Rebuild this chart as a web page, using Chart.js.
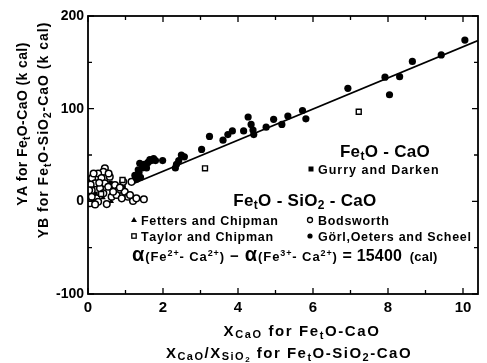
<!DOCTYPE html>
<html><head><meta charset="utf-8">
<script src="https://cdn.jsdelivr.net/npm/chart.js@4.4.0/dist/chart.umd.min.js"></script>
<style>html,body{margin:0;padding:0;background:#fff;}</style>
</head><body>
<canvas id="c" width="487" height="363"></canvas>
<script>
// ---- data ----
const gorlX = [1.25,1.30,1.36,1.40,1.38,1.34,1.45,1.50,1.56,1.60,1.65,1.69,1.75,1.80,1.99,2.33,2.36,2.42,2.49,2.57,3.03,3.24,3.60,3.73,3.85,4.15,4.27,4.35,4.40,4.42,4.75,4.95,5.17,5.33,5.72,5.81,6.93,7.92,8.04,8.31,8.65,9.42,10.05];
const gorlY = [28,24,31,26,41,34,36,40,36,42,45,44,46,44,44,36,40,44,50,48,56,70,66,72,76,76,91,83,77,72,80,88.5,83,92,98,89,122,134,115,134.5,151,158,174];

const bodsX = [0.45,0.41,0.27,0.11,0.36,0.58,0.19,0.45,0.07,0.10,0.32,0.54,0.72,0.94,1.16,0.81,0.98,1.07,1.20,1.49,1.29,0.23,0.10,0.50,0.27,0.63,0.76,0.90,0.03,0.05,0.41,0.67,0.19,1.12,0.15,0.55,0.85,0.30];
const bodsY = [35.6,32,30,25,25,26.5,19.4,19.4,18,12,14,15.8,17.6,21,21,12,10.4,5,0.3,2.2,3.2,3.2,5,-3,-0.4,5,6.8,3.2,12,-2,8.6,10.4,-3.3,6.8,30,30,15,20];

const taylorX = [7.22,3.12,0.92,0.35];
const taylorY = [96.7,35.6,23,8];

const gurryX = [0.05,0.12,0.20,0.35,0.60,0.70,0.95,0.02];
const gurryY = [10,17,8,12,20,12,15,22];

const fettersX = [0.08,0.40,0.62,0.15];
const fettersY = [28,4,0,1];

const lineX = [1.2,10.4];
const lineY = [19,173.5];

const xTicks = [0,1,2,3,4,5,6,7,8,9,10];
const xTickLabels = ['0','','2','','4','','6','','8','','10'];
const yTicks = [-100,-50,0,50,100,150,200];
const yTickLabels = ['-100','','0','','100','','200'];

const FONT = '"Liberation Sans", Arial, Helvetica, sans-serif';
const pts = (xs, ys) => xs.map((x, i) => ({x: x, y: ys[i]}));

// segments: [text, fontSize, dy, letterSpacing]
function rich(ctx, x, y, segs, align, ls0) {
  const ls = ls0 || 0;
  let w = 0;
  segs.forEach(s => {
    ctx.font = 'bold ' + s[1] + 'px ' + FONT;
    const sp = s[3] !== undefined ? s[3] : ls;
    s.cw = Array.from(s[0]).map(ch => ctx.measureText(ch).width + sp);
    s.w = s.cw.reduce((p, q) => p + q, 0);
    w += s.w;
  });
  let sx = align === 'center' ? x - w / 2 : x;
  ctx.textBaseline = 'alphabetic';
  ctx.textAlign = 'left';
  segs.forEach(s => {
    ctx.font = 'bold ' + s[1] + 'px ' + FONT;
    Array.from(s[0]).forEach((ch, k) => { ctx.fillText(ch, sx, y + s[2]); sx += s.cw[k]; });
  });
}

function marker(ctx, type, x, y) {
  ctx.save();
  ctx.lineWidth = 1.3; ctx.strokeStyle = '#000'; ctx.fillStyle = '#000';
  ctx.beginPath();
  if (type === 'tri') { ctx.moveTo(x, y - 3); ctx.lineTo(x + 3, y + 2); ctx.lineTo(x - 3, y + 2); ctx.closePath(); ctx.fill(); }
  else if (type === 'osq') { ctx.strokeRect(x - 2.2, y - 2.2, 4.4, 4.4); }
  else if (type === 'fsq') { ctx.fillRect(x - 2.5, y - 2.5, 5, 5); }
  else if (type === 'oc') { ctx.arc(x, y, 2.5, 0, Math.PI * 2); ctx.stroke(); }
  else if (type === 'fc') { ctx.arc(x, y, 2.6, 0, Math.PI * 2); ctx.fill(); }
  ctx.restore();
}

const decor = {
  id: 'decor',
  afterDraw(chart) {
    const ctx = chart.ctx, a = chart.chartArea;
    const sx = chart.scales.x, sy = chart.scales.y;
    ctx.save();
    ctx.strokeStyle = '#000'; ctx.lineWidth = 1.8;
    ctx.strokeRect(a.left, a.top, a.right - a.left, a.bottom - a.top);
    ctx.lineWidth = 1.3;
    ctx.beginPath();
    xTicks.forEach((v, i) => {
      const px = sx.getPixelForValue(v), L = xTickLabels[i] ? 6 : 4;
      ctx.moveTo(px, a.bottom); ctx.lineTo(px, a.bottom - L);
      ctx.moveTo(px, a.top); ctx.lineTo(px, a.top + L);
    });
    yTicks.forEach((v, i) => {
      const py = sy.getPixelForValue(v), L = yTickLabels[i] ? 6 : 4;
      ctx.moveTo(a.left, py); ctx.lineTo(a.left + L, py);
      ctx.moveTo(a.right, py); ctx.lineTo(a.right - L, py);
    });
    ctx.stroke();
    ctx.fillStyle = '#000';
    // y axis titles (rotated)
    const yt1 = [['YA for Fe',14,0],['t',10,3],['O-CaO (k cal)',14,0]];
    const yt2 = [['YB for Fe',14,0],['t',10,3],['O-SiO',14,0],['2',10,3],['-CaO (k cal)',14,0]];
    ctx.save(); ctx.translate(27, 124); ctx.rotate(-Math.PI / 2); rich(ctx, 0, 0, yt1, 'center', 0.4); ctx.restore();
    ctx.save(); ctx.translate(48, 130); ctx.rotate(-Math.PI / 2); rich(ctx, 0, 0, yt2, 'center', 1.0); ctx.restore();
    // x axis titles
    rich(ctx, 302, 336, [['X',15,0],['CaO',11,2],[' for Fe',15,0],['t',11,3],['O-CaO',15,0]], 'center', 1.6);
    rich(ctx, 289, 358, [['X',15,0],['CaO',11,2],['/X',15,0],['SiO',11,2],['2',8,4],[' for Fe',15,0],['t',11,3],['O-SiO',15,0],['2',11,3],['-CaO',15,0]], 'center', 1.5);
    // legend
    rich(ctx, 385, 157, [['Fe',17,0],['t',12,3],['O - CaO',17,0]], 'center', 0.3);
    marker(ctx, 'fsq', 311, 169);
    rich(ctx, 318, 173.5, [['Gurry and Darken',12.5,0]], 'left', 1.0);
    rich(ctx, 305, 206, [['Fe',17,0],['t',12,3],['O - SiO',17,0],['2',12,3],[' - CaO',17,0]], 'center', 0.3);
    marker(ctx, 'tri', 134, 220);
    rich(ctx, 141, 224.5, [['Fetters and Chipman',12.5,0]], 'left', 0.7);
    marker(ctx, 'oc', 310, 220);
    rich(ctx, 318, 224.5, [['Bodsworth',12.5,0]], 'left', 0.7);
    marker(ctx, 'osq', 134, 236);
    rich(ctx, 141, 240.5, [['Taylor and Chipman',12.5,0]], 'left', 0.7);
    marker(ctx, 'fc', 310, 236);
    rich(ctx, 318, 240.5, [['Görl,Oeters and Scheel',12.5,0]], 'left', 0.7);
    rich(ctx, 132, 261, [['α',20,0,1],['(Fe',13,0],['2+',9,-5],['- Ca',13,0],['2+',9,-5],[')',13,0],[' − ',15,0],['α',20,0,1],['(Fe',13,0],['3+',9,-5],['- Ca',13,0],['2+',9,-5],[')',13,0],[' = 15400',16,0,0.2],['  (cal)',13,0,0.2]], 'left', 0.9);
    ctx.restore();
  }
};

new Chart(document.getElementById('c'), {
  type: 'scatter',
  data: {
    datasets: [
      { label: 'Görl, Oeters and Scheel', data: pts(gorlX, gorlY), pointStyle: 'circle', pointRadius: 3.6, backgroundColor: '#000', borderColor: '#000', borderWidth: 0 },
      { label: 'Taylor and Chipman', data: pts(taylorX, taylorY), pointStyle: 'rect', pointRadius: 3.5, backgroundColor: '#fff', borderColor: '#000', borderWidth: 1.4 },
      { label: 'Bodsworth', data: pts(bodsX, bodsY), pointStyle: 'circle', pointRadius: 3.3, backgroundColor: '#fff', borderColor: '#000', borderWidth: 1.5 },
      { label: 'Gurry and Darken', data: pts(gurryX, gurryY), pointStyle: 'rect', pointRadius: 3.2, backgroundColor: '#000', borderColor: '#000', borderWidth: 0 },
      { label: 'Fetters and Chipman', data: pts(fettersX, fettersY), pointStyle: 'triangle', pointRadius: 3.2, backgroundColor: '#000', borderColor: '#000', borderWidth: 0 },
      { type: 'line', label: 'fit', data: pts(lineX, lineY), showLine: true, pointRadius: 0, borderColor: '#000', borderWidth: 1.8, fill: false }
    ]
  },
  options: {
    responsive: false,
    animation: false,
    devicePixelRatio: 1,
    layout: { padding: { left: 0, top: 16, right: 9, bottom: 0 } },
    plugins: { legend: { display: false }, tooltip: { enabled: false } },
    scales: {
      x: {
        type: 'linear', min: 0, max: 10.4, position: 'bottom',
        grid: { display: false, drawTicks: false }, border: { display: false },
        afterBuildTicks: s => { s.ticks = xTicks.map(v => ({ value: v })); },
        afterFit: s => { s.height = 69; },
        ticks: { color: '#000', font: { family: FONT, size: 15, weight: 'bold' }, padding: 5, maxRotation: 0, autoSkip: false,
          callback: (v) => { const i = xTicks.indexOf(v); return i >= 0 ? xTickLabels[i] : ''; } }
      },
      y: {
        type: 'linear', min: -100, max: 200, position: 'left',
        grid: { display: false, drawTicks: false }, border: { display: false },
        afterBuildTicks: s => { s.ticks = yTicks.map(v => ({ value: v })); },
        afterFit: s => { s.width = 88; },
        ticks: { color: '#000', font: { family: FONT, size: 14, weight: 'bold' }, padding: 4, autoSkip: false,
          callback: (v) => { const i = yTicks.indexOf(v); return i >= 0 ? yTickLabels[i] : ''; } }
      }
    }
  },
  plugins: [decor]
});
</script>
</body></html>
